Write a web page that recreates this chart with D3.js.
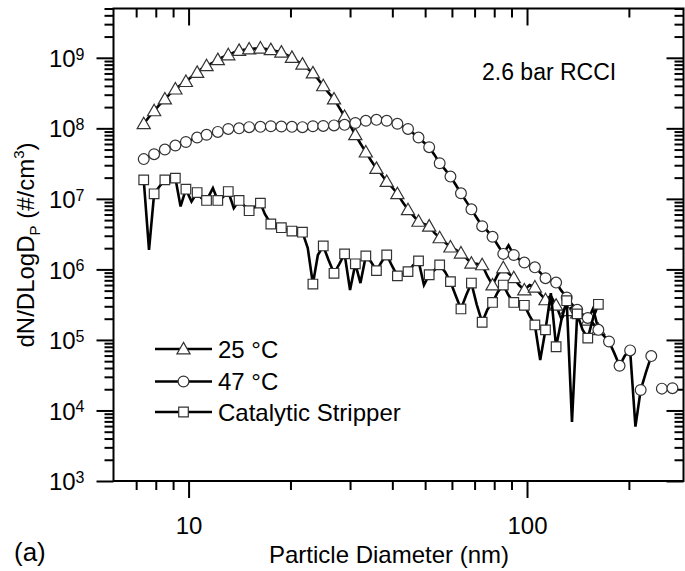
<!DOCTYPE html>
<html>
<head>
<meta charset="utf-8">
<script src="https://cdn.jsdelivr.net/npm/d3@7"></script>
<style>
html, body { margin: 0; padding: 0; background: #fff; }
svg text { font-family: "Liberation Sans", Arial, sans-serif; fill: #000; }
</style>
</head>
<body>
<div id="chart"></div>
<script>
// particle diameters (nm), SMPS bins
const diameters = [7.37, 7.64, 7.91, 8.20, 8.51, 8.82, 9.14, 9.47, 9.82, 10.2,
  10.6, 10.9, 11.3, 11.8, 12.2, 12.6, 13.1, 13.6, 14.1, 14.6,
  15.1, 15.7, 16.3, 16.8, 17.5, 18.1, 18.8, 19.5, 20.2, 20.9,
  21.7, 22.5, 23.3, 24.1, 25.0, 25.9, 26.9, 27.9, 28.9, 30.0,
  31.1, 32.2, 33.4, 34.6, 35.9, 37.2, 38.5, 40.0, 41.4, 42.9,
  44.5, 46.1, 47.8, 49.6, 51.4, 53.3, 55.2, 57.3, 59.4, 61.5,
  63.8, 66.1, 68.5, 71.0, 73.7, 76.4, 79.1, 82.0, 85.1, 88.2,
  91.4, 94.7, 98.2, 101.8, 105.5, 109.4, 113.4, 117.6, 121.9, 126.3,
  131.0, 135.8, 140.7, 145.9, 151.2, 156.8, 162.5, 168.5, 174.7, 181.1,
  187.7, 194.6, 201.7, 209.1, 216.7, 224.7, 232.9, 241.4, 250.3, 259.5,
  269.0];

// 25 °C
const t25 = [1.16e8, 1.45e8, 1.77e8, 2.15e8, 2.6e8, 3.1e8, 3.6e8, 4.1e8, 4.6e8, 5.4e8,
  6.2e8, 6.9e8, 7.7e8, 8.5e8, 9.4e8, 1.02e9, 1.10e9, 1.19e9, 1.27e9, 1.30e9,
  1.33e9, 1.35e9, 1.37e9, 1.34e9, 1.30e9, 1.25e9, 1.20e9, 1.10e9, 1.01e9, 9.0e8,
  8.1e8, 7.0e8, 6.1e8, 5.0e8, 4.0e8, 3.2e8, 2.6e8, 1.95e8, 1.47e8, 1.10e8,
  8.1e7, 6.1e7, 4.6e7, 3.5e7, 2.7e7, 2.2e7, 1.76e7, 1.45e7, 1.18e7, 9.0e6,
  7.0e6, 5.8e6, 4.8e6, 4.4e6, 4.1e6, 3.3e6, 2.8e6, 2.4e6, 2.07e6, 1.9e6,
  1.7e6, 1.45e6, 1.22e6, 1.2e6, 1.16e6, 8.0e5, 6.0e5, 8.5e5, 1.05e6, 8.8e5,
  7.6e5, 6.0e5, 5.1e5, 6.0e5, 5.6e5, 4.5e5, 3.7e5, 4.2e5, 3.1e5, 2.0e5,
  2.6e5, 2.9e5, 2.4e5, 2.2e5, 1.9e5, 2.8e5, 1.4e5];

// 47 °C
const t47 = [3.66e7, 4.0e7, 4.3e7, 4.65e7, 5.0e7, 5.35e7, 5.7e7, 6.0e7, 6.4e7, 6.9e7,
  7.4e7, 7.7e7, 8.1e7, 8.5e7, 8.9e7, 9.3e7, 9.8e7, 9.9e7, 1.0e8, 1.02e8,
  1.04e8, 1.05e8, 1.05e8, 1.06e8, 1.07e8, 1.07e8, 1.06e8, 1.05e8, 1.05e8, 1.04e8,
  1.04e8, 1.05e8, 1.07e8, 1.08e8, 1.08e8, 1.09e8, 1.10e8, 1.11e8, 1.12e8, 1.15e8,
  1.19e8, 1.24e8, 1.28e8, 1.30e8, 1.32e8, 1.30e8, 1.28e8, 1.22e8, 1.16e8, 1.07e8,
  9.8e7, 8.5e7, 7.4e7, 6.3e7, 5.4e7, 4.2e7, 3.2e7, 2.6e7, 2.07e7, 1.6e7,
  1.2e7, 9.2e6, 7.1e6, 5.4e6, 4.1e6, 3.5e6, 2.9e6, 2.2e6, 1.66e6, 2.2e6,
  1.6e6, 1.4e6, 1.25e6, 1.15e6, 1.07e6, 9.0e5, 7.5e5, 7.0e5, 6.5e5, 5.0e5,
  4.0e5, 3.2e5, 2.67e5, 2.3e5, 2.05e5, 1.7e5, 1.39e5, 1.15e5, 9.5e4, 6.5e4,
  4.3e4, 6.0e4, 7.1e4, 5.9e3, 1.95e4, 3.5e4, 5.9e4, null, 2.04e4, 2.05e4,
  2.07e4];

// Catalytic Stripper
const catStrip = [1.86e7, 1.89e6, 1.18e7, 1.5e7, 1.86e7, 1.9e7, 1.97e7, 7.8e6, 1.37e7, 9.2e6,
  1.23e7, 1.03e7, 9.5e6, 1.42e7, 9.5e6, 1.05e7, 1.27e7, 7.4e6, 9.5e6, 8.0e6,
  6.8e6, 7.7e6, 8.7e6, 6.1e6, 4.4e6, 4.1e6, 3.9e6, 3.7e6, 3.5e6, 3.4e6,
  3.37e6, 2.0e6, 6.2e5, 1.6e6, 2.15e6, 1.37e6, 8.8e5, 1.2e6, 1.66e6, 5.1e5,
  1.2e6, 6.4e5, 1.55e6, 1.28e6, 9.6e5, 1.28e6, 1.6e6, 1.1e6, 8.1e5, 8.6e5,
  9.3e5, 1.15e6, 1.32e6, 6.0e5, 8.4e5, 9.8e5, 1.16e6, 9.2e5, 6.7e5, 4.3e5,
  2.75e5, 4.3e5, 6.4e5, 3.2e5, 1.78e5, 2.7e5, 3.4e5, 4.8e5, 6.0e5, 4.3e5,
  3.4e5, 3.2e5, 3.1e5, 2.2e5, 1.63e5, 5.2e4, 1.39e5, 4.6e5, 8.0e4, 1.9e5,
  3.6e5, 6.9e3, 2.34e5, 1.4e5, 1.06e5, 2.05e5, 3.2e5];

const seriesNames = ['25 \u00B0C', '47 \u00B0C', 'Catalytic Stripper'];
const xMajor = [10, 100];
const xMinor = [7, 8, 9, 20, 30, 40, 50, 60, 70, 80, 90, 200];
const yExponents = [3, 4, 5, 6, 7, 8, 9];
const yMinorFactors = [2, 3, 4, 5, 6, 7, 8, 9];

(function(){
  const W = 685, H = 571;
  const plot = {left: 113.5, right: 683.5, top: 8.5, bottom: 481};
  const majorLen = 17, minorLen = 9;

  const svg = d3.select('#chart').append('svg')
    .attr('width', W).attr('height', H)
    .attr('viewBox', `0 0 ${W} ${H}`);

  const x = d3.scaleLog().domain([6, 290]).range([plot.left, plot.right]);
  const y = d3.scaleLog().domain([1e3, 5e9]).range([plot.bottom, plot.top]);

  const yMajor = yExponents.map(e => Math.pow(10, e));
  const yMinor = [];
  yExponents.forEach(e => yMinorFactors.forEach(k => {
    const v = k * Math.pow(10, e);
    if (v <= 5e9) yMinor.push(v);
  }));

  function styleAxis(g) {
    g.select('.domain').remove();
    g.selectAll('.tick line').attr('stroke', '#000').attr('stroke-width', 2);
  }

  // bottom axis (outward ticks)
  svg.append('g').attr('transform', `translate(0,${plot.bottom})`)
    .call(d3.axisBottom(x).tickValues(xMinor).tickSize(minorLen).tickFormat(''))
    .call(styleAxis);
  const xb = svg.append('g').attr('transform', `translate(0,${plot.bottom})`)
    .call(d3.axisBottom(x).tickValues(xMajor).tickSize(majorLen).tickPadding(19).tickFormat(d3.format('d')))
    .call(styleAxis);
  xb.selectAll('.tick text').attr('font-size', 24).attr('font-family', '"Liberation Sans", Arial, sans-serif');

  // top axis (inward ticks)
  svg.append('g').attr('transform', `translate(0,${plot.top})`)
    .call(d3.axisTop(x).tickValues(xMinor).tickSize(-minorLen).tickFormat(''))
    .call(styleAxis);
  svg.append('g').attr('transform', `translate(0,${plot.top})`)
    .call(d3.axisTop(x).tickValues(xMajor).tickSize(-majorLen).tickFormat(''))
    .call(styleAxis);

  // left axis (outward ticks)
  svg.append('g').attr('transform', `translate(${plot.left},0)`)
    .call(d3.axisLeft(y).tickValues(yMinor).tickSize(minorLen).tickFormat(''))
    .call(styleAxis);
  const yl = svg.append('g').attr('transform', `translate(${plot.left},0)`)
    .call(d3.axisLeft(y).tickValues(yMajor).tickSize(majorLen).tickPadding(12).tickFormat(''))
    .call(styleAxis);
  yl.selectAll('.tick text').each(function(d){
    const t = d3.select(this)
      .attr('font-size', 24)
      .attr('font-family', '"Liberation Sans", Arial, sans-serif')
      .attr('dy', '0.36em');
    t.append('tspan').text('10');
    t.append('tspan').attr('dy', '-0.45em').attr('font-size', 16).text(Math.round(Math.log10(d)));
  });

  // right axis (inward ticks)
  svg.append('g').attr('transform', `translate(${plot.right},0)`)
    .call(d3.axisRight(y).tickValues(yMinor).tickSize(-minorLen).tickFormat(''))
    .call(styleAxis);
  svg.append('g').attr('transform', `translate(${plot.right},0)`)
    .call(d3.axisRight(y).tickValues(yMajor).tickSize(-majorLen).tickFormat(''))
    .call(styleAxis);

  // frame
  svg.append('rect')
    .attr('x', plot.left).attr('y', plot.top)
    .attr('width', plot.right - plot.left).attr('height', plot.bottom - plot.top)
    .attr('fill', 'none').attr('stroke', '#000').attr('stroke-width', 2);

  // data
  svg.append('defs').append('clipPath').attr('id', 'plotClip')
    .append('rect')
    .attr('x', plot.left).attr('y', plot.top)
    .attr('width', plot.right - plot.left).attr('height', plot.bottom - plot.top);

  const markers = {
    tri: 'M0,-6.6L6.6,4.9L-6.6,4.9Z',
    circ: d3.symbol().type(d3.symbolCircle).size(Math.PI * 5.4 * 5.4)(),
    sq: 'M-4.8,-4.8H4.8V4.8H-4.8Z'
  };

  const series = [
    {name: seriesNames[0], values: t25, marker: markers.tri},
    {name: seriesNames[1], values: t47, marker: markers.circ},
    {name: seriesNames[2], values: catStrip, marker: markers.sq}
  ];

  const data = svg.append('g').attr('clip-path', 'url(#plotClip)');
  const line = d3.line()
    .defined(d => d.v != null && d.v > 0)
    .x(d => x(d.d)).y(d => y(d.v));

  series.forEach(s => {
    const pts = s.values.map((v, i) => ({d: diameters[i], v: v, i: i}));
    data.append('path')
      .datum(pts)
      .attr('fill', 'none')
      .attr('stroke', '#000')
      .attr('stroke-width', 2.6)
      .attr('stroke-linejoin', 'miter')
      .attr('d', line);
    data.append('g').selectAll('path')
      .data(pts.filter(p => p.i % 2 === 0 && p.v != null))
      .enter().append('path')
      .attr('d', s.marker)
      .attr('transform', p => `translate(${x(p.d)},${y(p.v)})`)
      .attr('fill', '#fff')
      .attr('stroke', '#333')
      .attr('stroke-width', 1.2);
  });

  // legend
  const legend = svg.append('g');
  const rowY = [349, 381.5, 412];
  series.forEach((s, i) => {
    const row = legend.append('g').attr('transform', `translate(0,${rowY[i]})`);
    row.append('line').attr('x1', 155).attr('x2', 212).attr('y1', 0).attr('y2', 0)
      .attr('stroke', '#000').attr('stroke-width', 2.6);
    row.append('path').attr('d', s.marker).attr('transform', 'translate(183.5,0)')
      .attr('fill', '#fff').attr('stroke', '#333').attr('stroke-width', 1.2);
    row.append('text').attr('x', 218).attr('y', 8.5).attr('font-size', 24).text(s.name);
  });

  // annotation
  svg.append('text').attr('x', 482).attr('y', 80).attr('font-size', 23).text('2.6 bar RCCI');
  svg.append('text').attr('x', 14).attr('y', 561).attr('font-size', 26).text('(a)');

  // axis titles
  svg.append('text')
    .attr('x', 389).attr('y', 563)
    .attr('text-anchor', 'middle').attr('font-size', 24)
    .text('Particle Diameter (nm)');

  const yt = svg.append('text')
    .attr('transform', 'translate(34,245) rotate(-90)')
    .attr('text-anchor', 'middle').attr('font-size', 24);
  yt.append('tspan').text('dN/DLogD');
  yt.append('tspan').attr('dy', 6).attr('font-size', 15).text('P');
  yt.append('tspan').attr('dy', -6).text(' (#/cm');
  yt.append('tspan').attr('dy', -10).attr('font-size', 15).text('3');
  yt.append('tspan').attr('dy', 10).text(')');
})();
</script>
</body>
</html>
